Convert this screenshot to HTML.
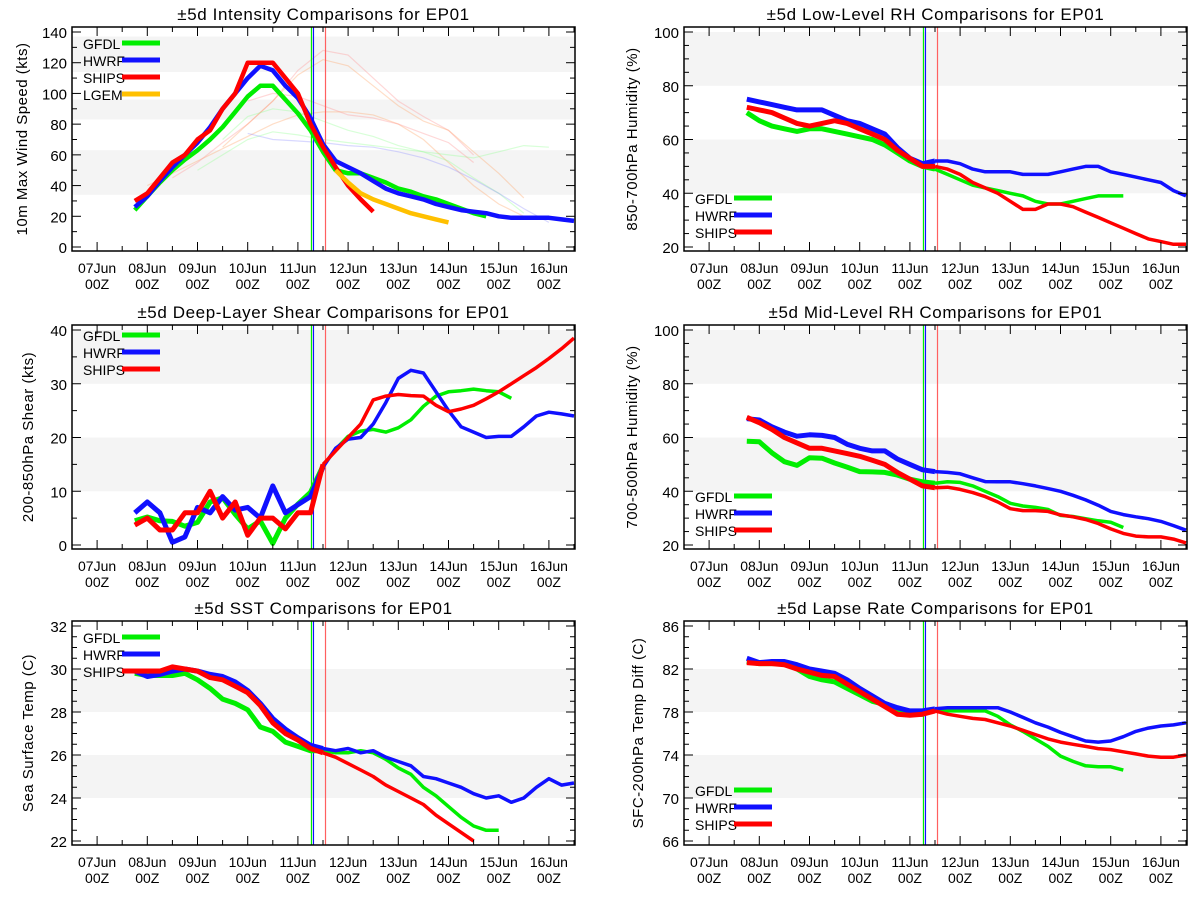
<!DOCTYPE html>
<html><head><meta charset="utf-8"><style>
html,body{margin:0;padding:0;background:#fff;}
svg{display:block;font-family:"Liberation Sans",sans-serif;}
</style></head><body>
<svg id="chart" width="1200" height="900" viewBox="0 0 1200 900" xmlns="http://www.w3.org/2000/svg"></svg>
<script>
// ---- shared time axis (days since 07Jun 00Z) ----
const leadDays = [0.75,1,1.25,1.5,1.75,2,2.25,2.5,2.75,3,3.25,3.5,3.75,4,4.25,4.5,4.75,5,5.25,5.5,5.75,6,6.25,6.5,6.75,7,7.25,7.5,7.75,8,8.25,8.5,8.75,9,9.25,9.5];
const dayLabels = ["07Jun","08Jun","09Jun","10Jun","11Jun","12Jun","13Jun","14Jun","15Jun","16Jun"];
const markerDays = [4.27,4.31,4.55];

// ---- Intensity ----
const intGFDL = [24,33,42,50,57,63,70,78,88,98,105,105,96,87,76,62,50,48,48,45,42,38,36,33,31,28,25,22,20];
const intHWRF = [26,33,43,52,60,68,78,90,100,110,118,115,105,97,84,67,56,52,48,43,38,35,33,31,28,26,24,23,22,20,19,19,19,19,18,17];
const intSHIPS = [30,35,45,55,60,70,76,90,100,120,120,120,110,100,80,65,52,40,31,23];
const intLGEM = [null,null,null,null,null,null,null,null,null,null,null,null,null,null,null,null,50,42,35,31,28,25,22,20,18,16];
const intTicks = [0,20,40,60,80,100,120,140];
const intBands = [[34,63],[83,96],[114,137]];
// ---- Low-level RH ----
const llGFDL = [70,67,65,64,63,64,64,63,62,61,60,58,55,52,50,49,47,45,43,42,41,40,39,37,36,36,37,38,39,39,39];
const llHWRF = [75,74,73,72,71,71,71,69,67,66,64,62,57,53,51,52,52,51,49,48,48,48,47,47,47,48,49,50,50,48,47,46,45,44,41,39];
const llSHIPS = [72,71,70,68,66,65,66,67,66,64,62,60,56,53,50,50,49,47,44,42,40,37,34,34,36,36,35,33,31,29,27,25,23,22,21,21];
const rhTicks = [20,40,60,80,100];
const rhBands = [[40,60],[80,100]];
// ---- Shear ----
const shGFDL = [4.5,5.2,4.5,4.4,3.5,4.2,8,8.8,5.7,3,4.5,0.3,5,7.6,9.8,14.7,17.8,20.2,21.2,21.5,21,21.8,23.3,25.8,27.7,28.5,28.7,29,28.7,28.5,27.3];
const shHWRF = [6,8,6,0.5,1.5,7,6,9,6.5,7,5,11,6,7.5,9,14.5,18,19.7,20,22.5,26.5,31,32.5,32,28.5,25,22,21,20,20.2,20.2,22,24,24.7,24.4,24];
const shSHIPS = [3.7,5,2.8,2.8,6,6,10,5,8,1.8,5,5,3,6,6,15,17.5,20,22.5,27,27.7,28,27.8,27.7,26,24.8,25.3,26,27.2,28.5,30,31.5,33,34.7,36.5,38.5];
const shTicks = [0,10,20,30,40];
const shBands = [[10,20],[30,40]];
// ---- Mid-level RH ----
const mlGFDL = [58.6,58.4,54.3,51,49.6,52.5,52.3,50.5,49,47.3,47.2,47,46,44.5,43.5,43,43.5,43.3,42,40,38,35.5,34.5,34,33.2,31,30.6,29.8,29,28.5,26.5];
const mlHWRF = [67,66.5,64,62,60.5,61,60.8,60,57.5,56,55,55,52,50,48,47.3,47,46.5,45,43.6,43.5,43.5,42.8,42,41,40,38.5,36.8,34.8,32.5,31.3,30.5,29.8,28.8,27.2,25.5];
const mlSHIPS = [67.5,65.5,63,60,58,56,56,55,54,53,51.5,50,47,44.5,42,41.3,41.5,40.7,39.5,38,36,33.5,32.8,32.8,32.5,31.2,30.5,29.5,28,26,24.3,23.3,23,23,22.2,20.8];
// ---- SST ----
const sstGFDL = [29.8,29.7,29.7,29.7,29.8,29.5,29.1,28.6,28.4,28.1,27.3,27.1,26.6,26.4,26.2,26.2,26.1,26.1,26.2,26.1,25.8,25.4,25.1,24.5,24.1,23.6,23.1,22.7,22.5,22.5];
const sstHWRF = [29.9,29.65,29.75,29.9,30,29.9,29.75,29.65,29.4,29,28.4,27.7,27.2,26.8,26.45,26.3,26.2,26.3,26.1,26.2,25.9,25.7,25.5,25,24.9,24.7,24.5,24.2,24,24.1,23.8,24,24.5,24.9,24.6,24.7];
const sstSHIPS = [29.9,29.9,29.9,30.1,30,29.9,29.6,29.5,29.2,28.9,28.3,27.5,27,26.7,26.3,26.1,25.9,25.6,25.3,25,24.6,24.3,24,23.7,23.2,22.8,22.4,22.0];
const sstTicks = [22,24,26,28,30,32];
const sstBands = [[24,26],[28,30]];
// ---- Lapse rate ----
const lrGFDL = [82.7,82.5,82.5,82.5,82,81.3,81,80.8,80.2,79.6,79,78.7,78.2,77.8,77.8,78.2,78.1,78.1,78.1,78.1,77.6,76.8,76.2,75.5,74.8,73.9,73.4,73.0,72.9,72.9,72.6];
const lrHWRF = [83,82.6,82.7,82.7,82.4,82,81.8,81.6,81,80.2,79.5,78.8,78.4,78.1,78.1,78.3,78.4,78.4,78.4,78.4,78.4,78,77.5,77,76.6,76.1,75.7,75.3,75.2,75.3,75.7,76.2,76.5,76.7,76.8,77];
const lrSHIPS = [82.6,82.5,82.5,82.4,82,81.7,81.4,81.3,80.6,79.9,79.2,78.5,77.8,77.7,77.8,78.1,77.8,77.6,77.4,77.3,77,76.7,76.3,75.9,75.5,75.2,75,74.8,74.6,74.5,74.3,74.1,73.9,73.8,73.8,74];
const lrTicks = [66,70,74,78,82,86];
const lrBands = [[70,74],[78,82]];
// ---- faint earlier-forecast guidance (start day, 12h values) ----
const intFaintStart = [1,1.5,2,2.5,3,2.5,3];
const intFaintVals = [[40,48,56,64,72,80,86,88,88,86,80,70,55,40,28,20],[45,55,68,80,95,115,128,125,110,95,85,76,60],[50,60,70,75,73,70,68,66,64,62,56,45,35,22],[65,80,95,112,122,118,105,92,82,76,62,48,32],[74,70,69,68,66,65,62,58,52,44,35,25,16],[70,85,90,88,82,76,72,66,62,60,58,62,66,65],[95,100,98,92,86,84,80,74,68,55]];
const intFaintColors = ["#ffa060","#ff9090","#90ff90","#ffa060","#9090ff","#90ff90","#ff9090"];

const COL = {GFDL:"#00ee00",HWRF:"#1010ff",SHIPS:"#ff0000",LGEM:"#ffc000"};
const svg = document.getElementById('chart');
const NS = "http://www.w3.org/2000/svg";
function mk(tag, attrs, parent, name, txt){
  const e = document.createElementNS(NS, tag);
  for (const k in attrs) e.setAttribute(k, attrs[k]);
  
  
  if (txt !== undefined) e.textContent = txt;
  (parent||svg).appendChild(e);
  return e;
}

function drawPanel(cfg){
  const g = mk('g', {}, svg, cfg.name);
  const L = cfg.left, T = cfg.top, W = 503, H = 224;
  const R = L + W, B = T + H;
  const xs = d => L + (d + 0.5) * 50.2;
  const ys = v => (T + 5) + (cfg.ymax - v) / (cfg.ymax - cfg.ymin) * 215;
  const clipId = 'clip-' + cfg.name;
  const cp = mk('clipPath', {id: clipId}, g, 'plot-clip');
  mk('rect', {x:L, y:T, width:W, height:H}, cp, 'plot-clip-rect');
  const inner = mk('g', {'clip-path': 'url(#' + clipId + ')'}, g, 'plot-area');
  cfg.bands.forEach(b => {
    mk('rect', {x:L, y:ys(b[1]), width:W, height:ys(b[0]) - ys(b[1]), fill:'#f4f4f4'}, inner, 'shaded-band');
  });
  (cfg.faint || []).forEach(f => {
    const pts = f.vals.map((v, i) => xs(f.start + i * 0.5).toFixed(1) + ',' + ys(v).toFixed(1)).join(' ');
    mk('polyline', {points: pts, fill:'none', stroke:f.color, 'stroke-width':1.2, opacity:0.35}, inner, 'faint-forecast-line');
  });
  const mcol = [COL.GFDL, COL.HWRF, '#ff6060'];
  markerDays.forEach((d, i) => {
    mk('line', {x1:xs(d), x2:xs(d), y1:T, y2:B, stroke:mcol[i], 'stroke-width':1.2}, inner, 'forecast-time-marker');
  });
  cfg.series.forEach(s => {
    const pre = [], post = [];
    s.vals.forEach((v, i) => {
      if (v === null) return;
      const d = leadDays[i];
      const p = xs(d).toFixed(1) + ',' + ys(v).toFixed(1);
      if (d <= cfg.split) pre.push(p);
      if (d >= cfg.split) post.push(p);
    });
    if (pre.length > 1) mk('polyline', {points: pre.join(' '), fill:'none', stroke:s.color, 'stroke-width':cfg.w1, 'stroke-linejoin':'round'}, inner, s.key.toLowerCase() + '-line');
    if (post.length > 1) mk('polyline', {points: post.join(' '), fill:'none', stroke:s.color, 'stroke-width':cfg.w2, 'stroke-linejoin':'round'}, inner, s.key.toLowerCase() + '-line-forecast');
  });
  mk('rect', {x:L, y:T, width:W, height:H, fill:'none', stroke:'#000', 'stroke-width':1.5}, g, 'plot-frame');
  for (let k = 0; k < 10; k++) {
    const x = xs(k);
    mk('line', {x1:x, x2:x, y1:B, y2:B - 9, stroke:'#000'}, g, 'x-tick');
    mk('line', {x1:x, x2:x, y1:T, y2:T + 9, stroke:'#000'}, g, 'x-tick');
    const xm = xs(k + 0.5);
    mk('line', {x1:xm, x2:xm, y1:B, y2:B - 5, stroke:'#000'}, g, 'x-minor-tick');
    mk('line', {x1:xm, x2:xm, y1:T, y2:T + 5, stroke:'#000'}, g, 'x-minor-tick');
    mk('text', {x:x, y:B + 22, 'font-size':14, 'text-anchor':'middle'}, g, 'x-tick-label', dayLabels[k]);
    mk('text', {x:x, y:B + 38, 'font-size':14, 'text-anchor':'middle'}, g, 'x-tick-label-hour', '00Z');
  }
  const tk = cfg.ticks, step = tk[1] - tk[0];
  tk.forEach((v, i) => {
    const y = ys(v);
    mk('line', {x1:L, x2:L + 9, y1:y, y2:y, stroke:'#000'}, g, 'y-tick');
    mk('line', {x1:R, x2:R - 9, y1:y, y2:y, stroke:'#000'}, g, 'y-tick');
    mk('text', {x:L - 5, y:y + 6, 'font-size':15, 'text-anchor':'end'}, g, 'y-tick-label', String(v));
    if (i < tk.length - 1) {
      for (let m = 1; m < cfg.minor; m++) {
        const ym = ys(v + step * m / cfg.minor);
        mk('line', {x1:L, x2:L + 5, y1:ym, y2:ym, stroke:'#000'}, g, 'y-minor-tick');
        mk('line', {x1:R, x2:R - 5, y1:ym, y2:ym, stroke:'#000'}, g, 'y-minor-tick');
      }
    }
  });
  mk('text', {x:0, y:0, 'font-size':15, 'text-anchor':'middle', 'letter-spacing':'0.5',
    transform:'translate(' + cfg.ytx + ',' + (T + H / 2) + ') rotate(-90)'}, g, 'y-axis-title', cfg.ytitle);
  mk('text', {x:(L + R) / 2, y:T - 7, 'font-size':17, 'text-anchor':'middle', 'letter-spacing':'0.6'}, g, 'chart-title', cfg.title);
  cfg.series.forEach((s, i) => {
    const ly = cfg.legY + i * 17;
    mk('text', {x:L + 11, y:ly + 6, 'font-size':14}, g, 'legend-label', s.key);
    mk('line', {x1:L + 50, x2:L + 88, y1:ly, y2:ly, stroke:s.color, 'stroke-width':5}, g, 'legend-swatch');
  });
}

const S = (key, vals) => ({key, vals, color: COL[key]});
drawPanel({name:'intensity-panel', left:72, top:27, ymin:0, ymax:140, ticks:intTicks, minor:2, bands:intBands,
  title:'\u00B15d Intensity Comparisons for EP01', ytitle:'10m Max Wind Speed (kts)', ytx:27, legY:43, split:99, w1:4.5, w2:4.5,
  faint: intFaintStart.map((s, i) => ({start:s, vals:intFaintVals[i], color:intFaintColors[i]})),
  series:[S('GFDL', intGFDL), S('HWRF', intHWRF), S('SHIPS', intSHIPS), S('LGEM', intLGEM)]});
drawPanel({name:'low-level-rh-panel', left:684, top:27, ymin:20, ymax:100, ticks:rhTicks, minor:4, bands:rhBands,
  title:'\u00B15d Low-Level RH Comparisons for EP01', ytitle:'850-700hPa Humidity (%)', ytx:637, legY:198, split:4.5, w1:5, w2:3.5,
  series:[S('GFDL', llGFDL), S('HWRF', llHWRF), S('SHIPS', llSHIPS)]});
drawPanel({name:'shear-panel', left:72, top:325, ymin:0, ymax:40, ticks:shTicks, minor:2, bands:shBands,
  title:'\u00B15d Deep-Layer Shear Comparisons for EP01', ytitle:'200-850hPa Shear (kts)', ytx:33, legY:335, split:4.5, w1:5, w2:3.5,
  series:[S('GFDL', shGFDL), S('HWRF', shHWRF), S('SHIPS', shSHIPS)]});
drawPanel({name:'mid-level-rh-panel', left:684, top:325, ymin:20, ymax:100, ticks:rhTicks, minor:4, bands:rhBands,
  title:'\u00B15d Mid-Level RH Comparisons for EP01', ytitle:'700-500hPa Humidity (%)', ytx:637, legY:496, split:4.5, w1:5, w2:3.5,
  series:[S('GFDL', mlGFDL), S('HWRF', mlHWRF), S('SHIPS', mlSHIPS)]});
drawPanel({name:'sst-panel', left:72, top:621, ymin:22, ymax:32, ticks:sstTicks, minor:4, bands:sstBands,
  title:'\u00B15d SST Comparisons for EP01', ytitle:'Sea Surface Temp (C)', ytx:33, legY:637, split:4.5, w1:5, w2:3.5,
  series:[S('GFDL', sstGFDL), S('HWRF', sstHWRF), S('SHIPS', sstSHIPS)]});
drawPanel({name:'lapse-rate-panel', left:684, top:621, ymin:66, ymax:86, ticks:lrTicks, minor:4, bands:lrBands,
  title:'\u00B15d Lapse Rate Comparisons for EP01', ytitle:'SFC-200hPa Temp Diff (C)', ytx:643, legY:790, split:4.5, w1:5, w2:3.5,
  series:[S('GFDL', lrGFDL), S('HWRF', lrHWRF), S('SHIPS', lrSHIPS)]});
</script>
</body></html>
